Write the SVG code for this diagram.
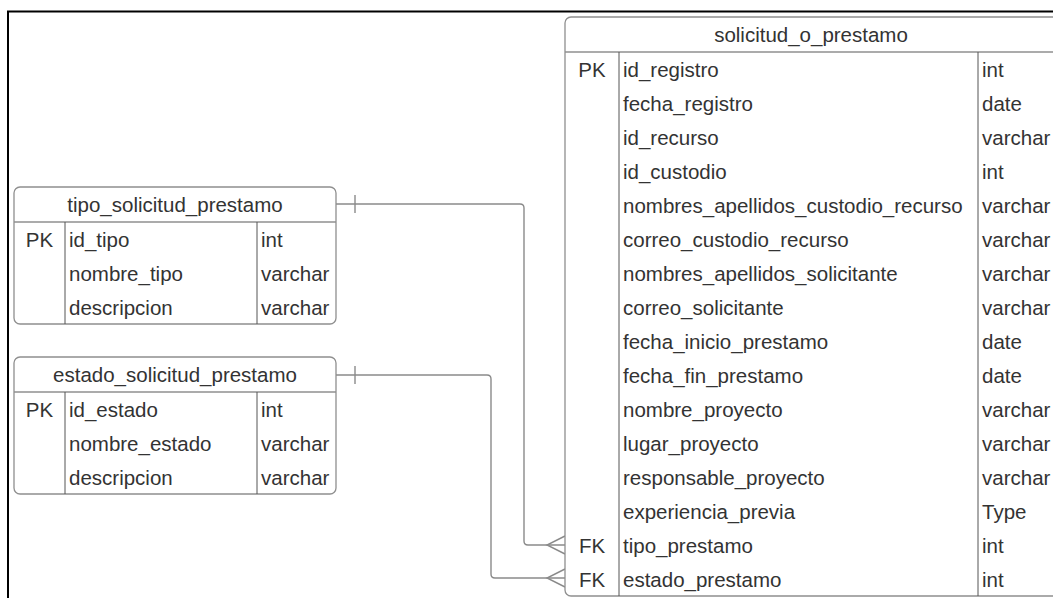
<svg xmlns="http://www.w3.org/2000/svg" width="1053" height="598" viewBox="0 0 1053 598">
  <style>
    .frame { fill: none; stroke: #000; stroke-width: 2; }
    .box { fill: #fff; stroke: #8f8f8f; stroke-width: 1.3; }
    .sep { stroke: #8f8f8f; stroke-width: 1.3; fill: none; }
    .col { stroke: #555; stroke-width: 1; }
    .title { font-family: "Liberation Sans", Arial, sans-serif; font-size: 20.5px; fill: #333; text-anchor: middle; dominant-baseline: central; }
    .cell { font-family: "Liberation Sans", Arial, sans-serif; font-size: 20.5px; fill: #333; dominant-baseline: central; }
    .key { font-family: "Liberation Sans", Arial, sans-serif; font-size: 20.5px; fill: #333; text-anchor: middle; dominant-baseline: central; }
    .link { fill: none; stroke: #8a8a8a; stroke-width: 1.4; }
  </style>

  <rect width="1053" height="598" fill="#fff"/>
  <!-- outer frame (top and left edges) -->
  <path class="frame" d="M8,598 V11.5 H1053"/>

  <!-- relationships -->
  <g id="connectors">
    <!-- tipo_solicitud_prestamo 1 : N solicitud_o_prestamo.tipo_prestamo -->
    <path class="link" d="M336,204 H520 Q524,204 524,208 V541 Q524,545 528,545 H565"/>
    <path class="link" d="M355,195 V213"/>
    <path class="link" d="M565,536 L547,545 L565,554"/>
    <!-- estado_solicitud_prestamo 1 : N solicitud_o_prestamo.estado_prestamo -->
    <path class="link" d="M336,375 H487 Q491,375 491,379 V574 Q491,578 495,578 H565"/>
    <path class="link" d="M355,366 V384"/>
    <path class="link" d="M565,569 L547,578 L565,587"/>
  </g>

  <g id="tipo_solicitud_prestamo">
    <rect class="box" x="14" y="187" width="322" height="137" rx="6"/>
    <line class="sep" x1="14" y1="222" x2="336" y2="222"/>
    <line class="col" x1="65" y1="222" x2="65" y2="324"/>
    <line class="col" x1="257" y1="222" x2="257" y2="324"/>
    <text class="title" x="175" y="204">tipo_solicitud_prestamo</text>
    <text class="key" x="39.5" y="239">PK</text>
    <text class="cell" x="69" y="239">id_tipo</text>
    <text class="cell" x="261" y="239">int</text>
    <text class="cell" x="69" y="273">nombre_tipo</text>
    <text class="cell" x="261" y="273">varchar</text>
    <text class="cell" x="69" y="307">descripcion</text>
    <text class="cell" x="261" y="307">varchar</text>
  </g>

  <g id="estado_solicitud_prestamo">
    <rect class="box" x="14" y="357" width="322" height="137" rx="6"/>
    <line class="sep" x1="14" y1="392" x2="336" y2="392"/>
    <line class="col" x1="65" y1="392" x2="65" y2="494"/>
    <line class="col" x1="257" y1="392" x2="257" y2="494"/>
    <text class="title" x="175" y="374.5">estado_solicitud_prestamo</text>
    <text class="key" x="39.5" y="409">PK</text>
    <text class="cell" x="69" y="409">id_estado</text>
    <text class="cell" x="261" y="409">int</text>
    <text class="cell" x="69" y="443">nombre_estado</text>
    <text class="cell" x="261" y="443">varchar</text>
    <text class="cell" x="69" y="477">descripcion</text>
    <text class="cell" x="261" y="477">varchar</text>
  </g>

  <g id="solicitud_o_prestamo">
    <rect class="box" x="565" y="17" width="495" height="579" rx="6"/>
    <line class="sep" x1="565" y1="52" x2="1060" y2="52"/>
    <line class="col" x1="619" y1="52" x2="619" y2="596"/>
    <line class="col" x1="978" y1="52" x2="978" y2="596"/>
    <text class="title" x="811" y="34">solicitud_o_prestamo</text>

    <text class="key" x="592" y="69">PK</text>
    <text class="cell" x="623" y="69">id_registro</text>
    <text class="cell" x="982" y="69">int</text>

    <text class="cell" x="623" y="103">fecha_registro</text>
    <text class="cell" x="982" y="103">date</text>

    <text class="cell" x="623" y="137">id_recurso</text>
    <text class="cell" x="982" y="137">varchar</text>

    <text class="cell" x="623" y="171">id_custodio</text>
    <text class="cell" x="982" y="171">int</text>

    <text class="cell" x="623" y="205">nombres_apellidos_custodio_recurso</text>
    <text class="cell" x="982" y="205">varchar</text>

    <text class="cell" x="623" y="239">correo_custodio_recurso</text>
    <text class="cell" x="982" y="239">varchar</text>

    <text class="cell" x="623" y="273">nombres_apellidos_solicitante</text>
    <text class="cell" x="982" y="273">varchar</text>

    <text class="cell" x="623" y="307">correo_solicitante</text>
    <text class="cell" x="982" y="307">varchar</text>

    <text class="cell" x="623" y="341">fecha_inicio_prestamo</text>
    <text class="cell" x="982" y="341">date</text>

    <text class="cell" x="623" y="375">fecha_fin_prestamo</text>
    <text class="cell" x="982" y="375">date</text>

    <text class="cell" x="623" y="409">nombre_proyecto</text>
    <text class="cell" x="982" y="409">varchar</text>

    <text class="cell" x="623" y="443">lugar_proyecto</text>
    <text class="cell" x="982" y="443">varchar</text>

    <text class="cell" x="623" y="477">responsable_proyecto</text>
    <text class="cell" x="982" y="477">varchar</text>

    <text class="cell" x="623" y="511">experiencia_previa</text>
    <text class="cell" x="982" y="511">Type</text>

    <text class="key" x="592" y="545">FK</text>
    <text class="cell" x="623" y="545">tipo_prestamo</text>
    <text class="cell" x="982" y="545">int</text>

    <text class="key" x="592" y="579">FK</text>
    <text class="cell" x="623" y="579">estado_prestamo</text>
    <text class="cell" x="982" y="579">int</text>
  </g>
</svg>
